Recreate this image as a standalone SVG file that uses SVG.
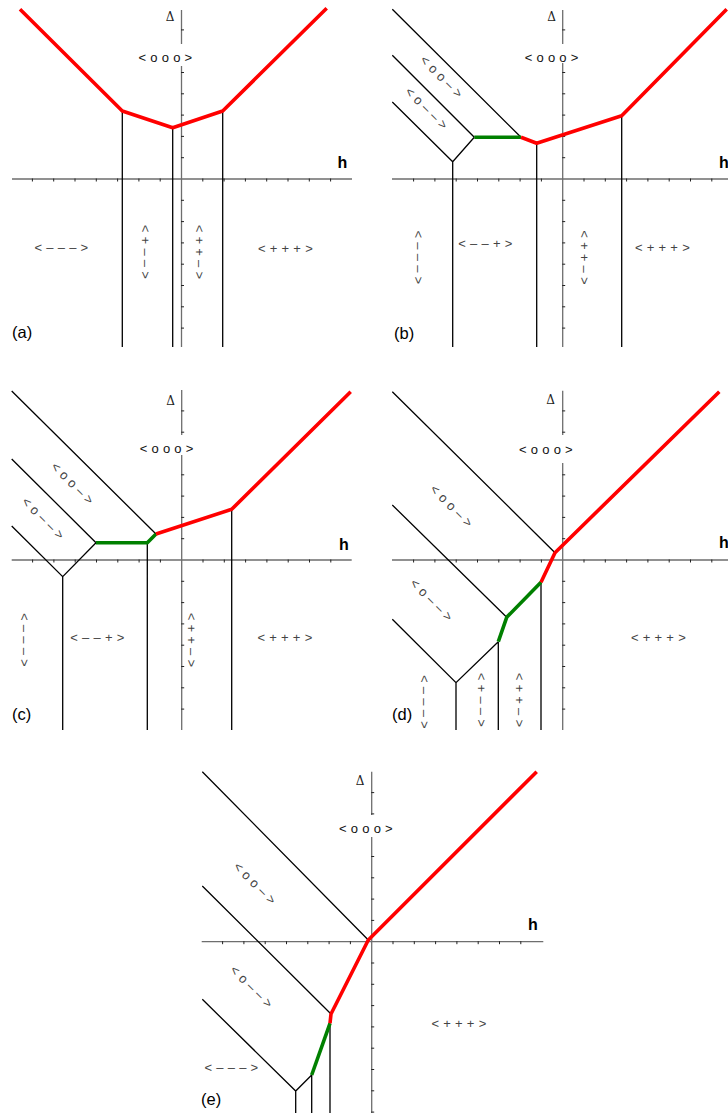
<svg xmlns="http://www.w3.org/2000/svg" width="728" height="1113" viewBox="0 0 728 1113">
<style>
.bg{fill:#fff}
.ax{stroke:#6e6e6e;stroke-width:1.3;fill:none}
.tk{stroke:#222;stroke-width:1;fill:none}
.bl{stroke:#000;stroke-width:1.3;fill:none;stroke-linejoin:miter}
.rd{stroke:#ff0000;stroke-width:3.6;fill:none;stroke-linejoin:round}
.gr{stroke:#008000;stroke-width:3.6;fill:none;stroke-linejoin:round}
.lb{font-family:"Liberation Sans",Arial,sans-serif;font-size:13px;fill:#444;letter-spacing:0.3px;text-anchor:middle}
.oo{font-family:"Liberation Sans",Arial,sans-serif;font-size:13px;fill:#111;letter-spacing:0.3px;text-anchor:middle}
.dl{font-family:"DejaVu Serif","Liberation Serif",serif;font-size:12px;fill:#222;text-anchor:middle}
.h{font-family:"Liberation Sans",Arial,sans-serif;font-size:16px;font-weight:bold;fill:#000;text-anchor:middle}
.pl{font-family:"Liberation Sans",Arial,sans-serif;font-size:16.5px;fill:#000}
</style>
<rect class="bg" x="0" y="0" width="728" height="1113"/>

<g id="panel-a">
<path class="ax" d="M181.5,10V44M181.5,66V347M12,179H352"/>
<path class="tk" d="M32.4,178.5v3M53.7,178.5v3M75,178.5v3M96.3,178.5v3M117.6,178.5v3M138.9,178.5v3M160.2,178.5v3M202.8,178.5v3M224.1,178.5v3M245.4,178.5v3M266.7,178.5v3M288,178.5v3M309.3,178.5v3M330.6,178.5v3M181,29.9h3M181,72.5h3M181,93.8h3M181,115.1h3M181,136.4h3M181,157.7h3M181,200.3h3M181,221.6h3M181,242.9h3M181,264.2h3M181,285.5h3M181,306.8h3M181,328.1h3"/>
<path class="bl" d="M122.3,111V347M172.7,127.7V347M222.7,111V347"/>
<path class="rd" d="M20,9.3L122.3,111L172.7,127.7L222.7,111L326.7,8.3"/>
<text class="dl" x="170" y="21">Δ</text>
<text class="h" x="342.5" y="168">h</text>
<text class="oo" x="165.5" y="61.5">&lt; o o o &gt;</text>
<text class="lb" x="61.5" y="251.5">&lt; – – – &gt;</text>
<text class="lb" transform="translate(146,252) rotate(90)" dy="0.35em">&lt; + – – &gt;</text>
<text class="lb" transform="translate(200,252) rotate(90)" dy="0.35em">&lt; + + – &gt;</text>
<text class="lb" x="285.5" y="252.5">&lt; + + + &gt;</text>
<text class="pl" x="12" y="338">(a)</text>
</g>

<g id="panel-b">
<path class="ax" d="M562.7,10V44M562.7,63V347M392,179H728"/>
<path class="tk" d="M413.6,178.5v3M434.9,178.5v3M456.2,178.5v3M477.5,178.5v3M498.8,178.5v3M520.1,178.5v3M541.4,178.5v3M584,178.5v3M605.3,178.5v3M626.6,178.5v3M647.9,178.5v3M669.2,178.5v3M690.5,178.5v3M711.8,178.5v3M562.2,29.9h3M562.2,72.5h3M562.2,93.8h3M562.2,115.1h3M562.2,136.4h3M562.2,157.7h3M562.2,200.3h3M562.2,221.6h3M562.2,242.9h3M562.2,264.2h3M562.2,285.5h3M562.2,306.8h3M562.2,328.1h3"/>
<path class="bl" d="M392.3,9.3L521,137.3M392.3,55.3L474.3,137.3M392.3,102L452.7,161.7L474.3,137.3M452.7,161.7V347M536.7,143.3V347M621.7,115.7V347"/>
<path class="gr" d="M474.3,137.3H521"/>
<path class="rd" d="M521,137.3L536.7,143.3L621.7,115.7L726.7,9.3"/>
<text class="dl" x="551.7" y="21">Δ</text>
<text class="h" x="724" y="168">h</text>
<text class="oo" x="551.7" y="61.5">&lt; o o o &gt;</text>
<text class="lb" transform="translate(441.7,76.7) rotate(45)" dy="0.35em">&lt; o o – &gt;</text>
<text class="lb" transform="translate(426.7,108.3) rotate(45)" dy="0.35em">&lt; o – – &gt;</text>
<text class="lb" transform="translate(418.3,257.5) rotate(90)" dy="0.35em">&lt; – – – &gt;</text>
<text class="lb" x="485.5" y="247.5">&lt; – – + &gt;</text>
<text class="lb" transform="translate(585,257.5) rotate(90)" dy="0.35em">&lt; + + – &gt;</text>
<text class="lb" x="662.5" y="251.5">&lt; + + + &gt;</text>
<text class="pl" x="394" y="339">(b)</text>
</g>

<g id="panel-c">
<path class="ax" d="M181.7,390V435M181.7,455V730M11.7,560H351.7"/>
<path class="tk" d="M32.6,559.5v3M53.9,559.5v3M75.2,559.5v3M96.5,559.5v3M117.8,559.5v3M139.1,559.5v3M160.4,559.5v3M203,559.5v3M224.3,559.5v3M245.6,559.5v3M266.9,559.5v3M288.2,559.5v3M309.5,559.5v3M330.8,559.5v3M181.2,410.9h3M181.2,432.2h3M181.2,474.8h3M181.2,496.1h3M181.2,517.4h3M181.2,538.7h3M181.2,581.3h3M181.2,602.6h3M181.2,623.9h3M181.2,645.2h3M181.2,666.5h3M181.2,687.8h3M181.2,709.1h3"/>
<path class="bl" d="M11.7,391L156,534M11.7,459L96,542.7M11.7,526L62.7,576.7L96,542.7M62.7,576.7V730M147.3,542.7V730M231.7,509.3V730"/>
<path class="gr" d="M96,542.7H147.3L156,534"/>
<path class="rd" d="M156,534L231.7,509.3L350.7,391.7"/>
<text class="dl" x="170.7" y="405">Δ</text>
<text class="h" x="344" y="550">h</text>
<text class="oo" x="166.7" y="453">&lt; o o o &gt;</text>
<text class="lb" transform="translate(72.7,483.3) rotate(45)" dy="0.35em">&lt; o o – &gt;</text>
<text class="lb" transform="translate(43.3,518.3) rotate(45)" dy="0.35em">&lt; o – – &gt;</text>
<text class="lb" transform="translate(25,640) rotate(90)" dy="0.35em">&lt; – – – &gt;</text>
<text class="lb" x="97.5" y="641.5">&lt; – – + &gt;</text>
<text class="lb" transform="translate(191.7,640) rotate(90)" dy="0.35em">&lt; + + – &gt;</text>
<text class="lb" x="285" y="642">&lt; + + + &gt;</text>
<text class="pl" x="12" y="720">(c)</text>
</g>

<g id="panel-d">
<path class="ax" d="M562.7,390.7V435M562.7,463V730M392,560H728"/>
<path class="tk" d="M413.6,559.5v3M434.9,559.5v3M456.2,559.5v3M477.5,559.5v3M498.8,559.5v3M520.1,559.5v3M541.4,559.5v3M584,559.5v3M605.3,559.5v3M626.6,559.5v3M647.9,559.5v3M669.2,559.5v3M690.5,559.5v3M711.8,559.5v3M562.2,410.9h3M562.2,432.2h3M562.2,474.8h3M562.2,496.1h3M562.2,517.4h3M562.2,538.7h3M562.2,581.3h3M562.2,602.6h3M562.2,623.9h3M562.2,645.2h3M562.2,666.5h3M562.2,687.8h3M562.2,709.1h3"/>
<path class="bl" d="M392.3,391.7L555,552.7M392.3,505L506.7,617.3M392.3,619.3L456,682.7L498.3,641.7M456,682.7V730M498.3,641.7V730M541,582.3V730"/>
<path class="gr" d="M498.3,641.7L506.7,617.3L541,582.3"/>
<path class="rd" d="M541,582.3L555,552.7L719.3,391.7"/>
<text class="dl" x="550.7" y="404">Δ</text>
<text class="h" x="724" y="548">h</text>
<text class="oo" x="546" y="454">&lt; o o o &gt;</text>
<text class="lb" transform="translate(451.7,506) rotate(45)" dy="0.35em">&lt; o o – &gt;</text>
<text class="lb" transform="translate(431.7,600) rotate(45)" dy="0.35em">&lt; o – – &gt;</text>
<text class="lb" transform="translate(424.3,702) rotate(90)" dy="0.35em">&lt; – – – &gt;</text>
<text class="lb" transform="translate(481.5,700) rotate(90)" dy="0.35em">&lt; + – – &gt;</text>
<text class="lb" transform="translate(519.3,700) rotate(90)" dy="0.35em">&lt; + + – &gt;</text>
<text class="lb" x="658.5" y="641.5">&lt; + + + &gt;</text>
<text class="pl" x="392" y="720">(d)</text>
</g>

<g id="panel-e">
<path class="ax" d="M371.7,771.7V815M371.7,837V1113M201.7,941.7H543.3"/>
<path class="tk" d="M222.6,941.2v3M243.9,941.2v3M265.2,941.2v3M286.5,941.2v3M307.8,941.2v3M329.1,941.2v3M350.4,941.2v3M393,941.2v3M414.3,941.2v3M435.6,941.2v3M456.9,941.2v3M478.2,941.2v3M499.5,941.2v3M520.8,941.2v3M371.2,792.6h3M371.2,813.9h3M371.2,856.5h3M371.2,877.8h3M371.2,899.1h3M371.2,920.4h3M371.2,963h3M371.2,984.3h3M371.2,1005.6h3M371.2,1026.9h3M371.2,1048.2h3M371.2,1069.5h3M371.2,1090.8h3M371.2,1112.1h3"/>
<path class="bl" d="M202.3,771.7L368.3,940M202.3,886L331,1014M202.3,999.3L295.7,1091L311.7,1075M295.7,1091V1113M311.7,1075V1113M330,1023.3V1113"/>
<path class="gr" d="M311.7,1075L330,1023.3"/>
<path class="rd" d="M330,1023.3L331,1014L368.3,940L536.7,771.7"/>
<text class="dl" x="360" y="785">Δ</text>
<text class="h" x="533" y="930">h</text>
<text class="oo" x="366" y="833">&lt; o o o &gt;</text>
<text class="lb" transform="translate(255,883.3) rotate(45)" dy="0.35em">&lt; o o – &gt;</text>
<text class="lb" transform="translate(251.7,986.7) rotate(45)" dy="0.35em">&lt; o – – &gt;</text>
<text class="lb" x="231.5" y="1071.5">&lt; – – – &gt;</text>
<text class="lb" x="459" y="1028">&lt; + + + &gt;</text>
<text class="pl" x="201" y="1105">(e)</text>
</g>
</svg>
